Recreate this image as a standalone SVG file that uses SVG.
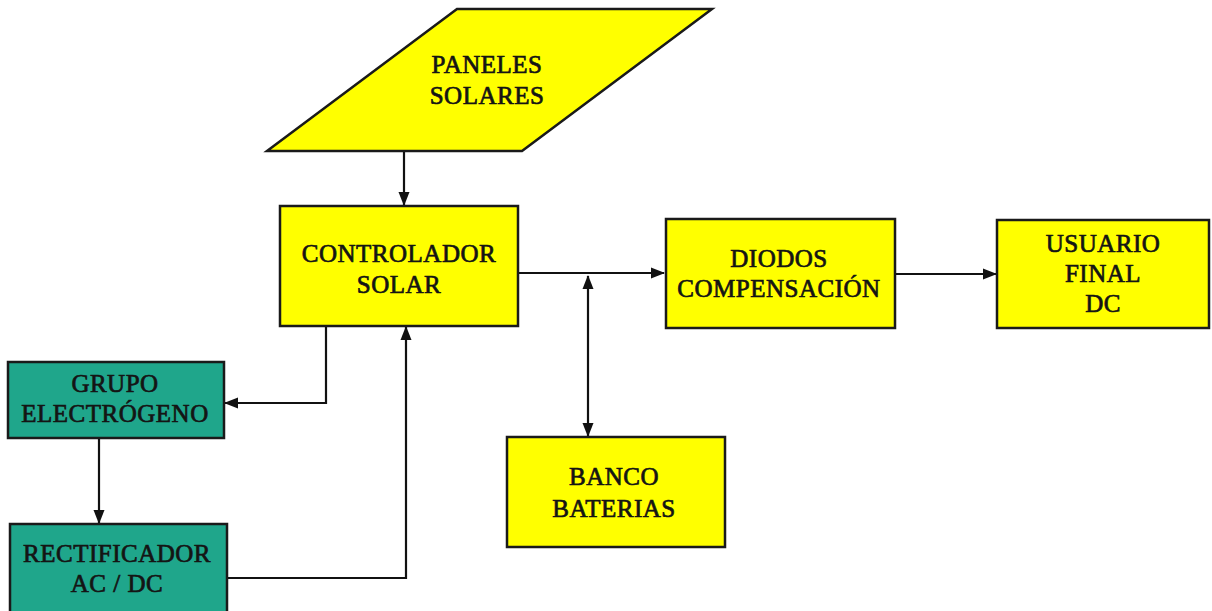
<svg xmlns="http://www.w3.org/2000/svg" width="1212" height="611" viewBox="0 0 1212 611">
<style>
.y{fill:#ffff00;stroke:#1a1a1a;stroke-width:2.5}
.g{fill:#1fa68b;stroke:#1a1a1a;stroke-width:2.5}
.t{font-family:"Liberation Serif","Times New Roman",serif;font-size:25px;fill:#141414;stroke:#141414;stroke-width:0.7;text-anchor:middle;letter-spacing:0.5px}
.c{fill:none;stroke:#111;stroke-width:2.2}
</style>
<defs>
<marker id="ah" markerUnits="userSpaceOnUse" markerWidth="14" markerHeight="14" viewBox="0 0 14 14" refX="13" refY="7" orient="auto-start-reverse">
<path d="M0,1.5 L14,7 L0,12.5 Z" fill="#111"/>
</marker>
</defs>
<rect width="1212" height="611" fill="#ffffff"/>
<g id="connectors">
<line class="c" x1="404" y1="152" x2="404" y2="205" marker-end="url(#ah)"/>
<line class="c" x1="519" y1="273" x2="664" y2="273" marker-end="url(#ah)"/>
<line class="c" x1="588" y1="276" x2="588" y2="436" marker-start="url(#ah)" marker-end="url(#ah)"/>
<line class="c" x1="896" y1="274" x2="996" y2="274" marker-end="url(#ah)"/>
<polyline class="c" points="326,327 326,403 225,403" marker-end="url(#ah)"/>
<line class="c" x1="99" y1="439" x2="99" y2="523" marker-end="url(#ah)"/>
<polyline class="c" points="228,578 406,578 406,327" marker-end="url(#ah)"/>
</g>
<g id="paneles">
<polygon class="y" points="457,9 712,9 522,151 267,151"/>
<text class="t" x="487" y="73">PANELES</text>
<text class="t" x="487" y="104">SOLARES</text>
</g>
<g id="controlador">
<rect class="y" x="280" y="206" width="238" height="120"/>
<text class="t" x="399" y="262">CONTROLADOR</text>
<text class="t" x="399" y="293">SOLAR</text>
</g>
<g id="diodos">
<rect class="y" x="666" y="219" width="229" height="109"/>
<text class="t" x="779" y="267">DIODOS</text>
<text class="t" x="779" y="297">COMPENSACIÓN</text>
</g>
<g id="usuario">
<rect class="y" x="997" y="220" width="212" height="108"/>
<text class="t" x="1103" y="252">USUARIO</text>
<text class="t" x="1103" y="282">FINAL</text>
<text class="t" x="1103" y="312">DC</text>
</g>
<g id="banco">
<rect class="y" x="507" y="437" width="218" height="110"/>
<text class="t" x="614" y="485">BANCO</text>
<text class="t" x="614" y="517">BATERIAS</text>
</g>
<g id="grupo">
<rect class="g" x="8" y="362" width="216" height="76"/>
<text class="t" x="115" y="392">GRUPO</text>
<text class="t" x="115" y="422">ELECTRÓGENO</text>
</g>
<g id="rectificador">
<rect class="g" x="10" y="524" width="217" height="95"/>
<text class="t" x="117" y="562">RECTIFICADOR</text>
<text class="t" x="117" y="592">AC / DC</text>
</g>
</svg>
